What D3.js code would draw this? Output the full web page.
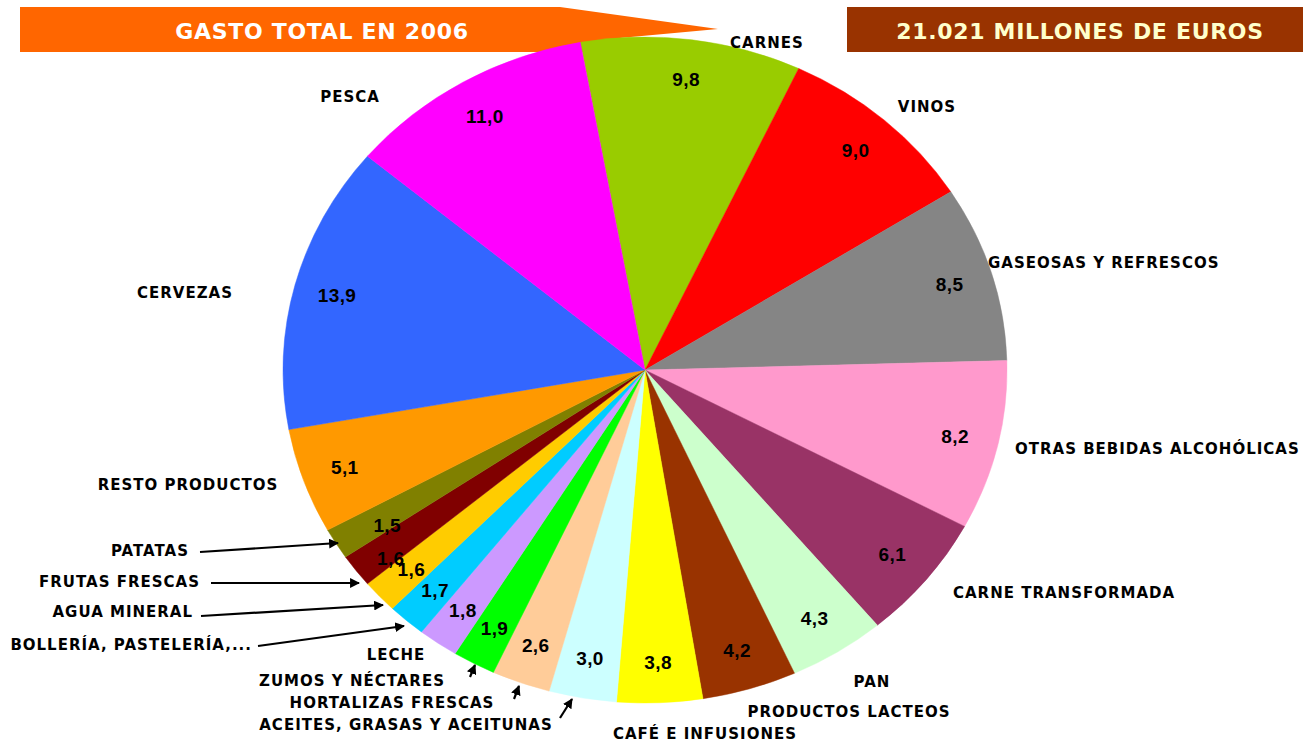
<!DOCTYPE html>
<html>
<head>
<meta charset="utf-8">
<script src="https://cdn.jsdelivr.net/npm/d3@7"></script>
<style>
  html, body { margin: 0; padding: 0; background: #ffffff; }
  svg { display: block; }
</style>
</head>
<body>
<svg id="chart" width="1307" height="743"></svg>
<script>
// Share of household food spending, 2006 (% of total)
const categories = [
  "CARNES", "VINOS", "GASEOSAS Y REFRESCOS", "OTRAS BEBIDAS ALCOHÓLICAS",
  "CARNE TRANSFORMADA", "PAN", "PRODUCTOS LACTEOS", "CAFÉ E INFUSIONES",
  "ACEITES, GRASAS Y ACEITUNAS", "HORTALIZAS FRESCAS", "ZUMOS Y NÉCTARES",
  "LECHE", "BOLLERÍA, PASTELERÍA,...", "AGUA MINERAL", "FRUTAS FRESCAS",
  "PATATAS", "RESTO PRODUCTOS", "CERVEZAS", "PESCA"
];
const values = [9.8, 9.0, 8.5, 8.2, 6.1, 4.3, 4.2, 3.8, 3.0, 2.6, 1.9, 1.8, 1.7, 1.6, 1.6, 1.5, 5.1, 13.9, 11.0];
const valueLabels = ["9,8", "9,0", "8,5", "8,2", "6,1", "4,3", "4,2", "3,8", "3,0", "2,6", "1,9", "1,8", "1,7", "1,6", "1,6", "1,5", "5,1", "13,9", "11,0"];

const titleLeft = "GASTO TOTAL EN 2006";
const titleRight = "21.021 MILLONES DE EUROS";

// Slice fills
const sliceColors = [
  "#99CC00", "#FF0000", "#858585", "#FF99CC", "#993366", "#CCFFCC", "#993300", "#FFFF00",
  "#CCFFFF", "#FFCC99", "#00FF00", "#CC99FF", "#00CCFF", "#FFCC00", "#800000",
  "#808000", "#FF9900", "#3366FF", "#FF00FF"
];

// Category label placement: [x, y, anchor, leader] ; leader = [x1, y1, x2, y2] or null
const labelLayout = [
  [767, 43, "middle", null],
  [927, 107, "middle", null],
  [988, 263, "start", null],
  [1015, 449, "start", null],
  [953, 593, "start", null],
  [872, 682, "middle", null],
  [849, 712, "middle", null],
  [705, 734, "middle", null],
  [406, 725, "middle", [560, 718, 572, 699]],
  [392, 703, "middle", [514, 699, 519, 686]],
  [352, 681, "middle", [470, 677, 475, 665]],
  [396, 655, "middle", null],
  [252, 645, "end", [258, 646, 404, 626]],
  [193, 612, "end", [201, 616, 383, 605]],
  [200, 582, "end", [211, 583, 359, 583]],
  [189, 551, "end", [200, 552, 338, 543]],
  [188, 485, "middle", null],
  [185, 293, "middle", null],
  [350, 97, "middle", null]
];

// Small offsets for value labels that crowd each other in the thin slices
const valueNudge = { 14: [0, 12], 15: [14, 3] };

const svg = d3.select("#chart");
const cx = 645, cy = 370, rx = 362, ry = 333;
const sy = ry / rx;

// Header banners
svg.append("path")
  .attr("d", "M20,7 L560,7 L718,29 L620,38 L620,52 L20,52 Z")
  .attr("fill", "#FF6600");
svg.append("text")
  .attr("x", 322).attr("y", 31)
  .attr("text-anchor", "middle").attr("dominant-baseline", "central")
  .attr("font-family", "'DejaVu Sans', Verdana, sans-serif")
  .attr("font-weight", "bold").attr("font-size", 22)
  .attr("letter-spacing", 0.7)
  .attr("fill", "#FFFFFF")
  .text(titleLeft);

svg.append("rect")
  .attr("x", 847).attr("y", 7).attr("width", 456).attr("height", 45)
  .attr("fill", "#993300");
svg.append("text")
  .attr("x", 1080).attr("y", 31)
  .attr("text-anchor", "middle").attr("dominant-baseline", "central")
  .attr("font-family", "'DejaVu Sans', Verdana, sans-serif")
  .attr("font-weight", "bold").attr("font-size", 22)
  .attr("letter-spacing", 0.7)
  .attr("fill", "#FFFFCC")
  .text(titleRight);

// Pie
const startDeg = -10.3;
const pie = d3.pie()
  .value(d => d)
  .sort(null)
  .startAngle(startDeg * Math.PI / 180)
  .endAngle((startDeg + 360) * Math.PI / 180);
const arcs = pie(values);
const arc = d3.arc().innerRadius(0).outerRadius(rx);

const g = svg.append("g")
  .attr("transform", `translate(${cx},${cy}) scale(1,${sy})`);
g.selectAll("path.slice")
  .data(arcs)
  .enter().append("path")
  .attr("class", "slice")
  .attr("d", arc)
  .attr("fill", (d, i) => sliceColors[i])
  .attr("stroke", (d, i) => sliceColors[i])
  .attr("stroke-width", 0.5);

// Value labels inside the slices
const labelR = 0.88 * rx;
const nudge = i => valueNudge[i] || [0, 0];
svg.selectAll("text.val")
  .data(arcs)
  .enter().append("text")
  .attr("class", "val")
  .attr("x", (d, i) => cx + labelR * Math.sin((d.startAngle + d.endAngle) / 2) + nudge(i)[0])
  .attr("y", (d, i) => cy - labelR * Math.cos((d.startAngle + d.endAngle) / 2) * sy + nudge(i)[1])
  .attr("text-anchor", "middle").attr("dominant-baseline", "central")
  .attr("font-family", "'Liberation Sans', Arial, sans-serif")
  .attr("font-weight", "bold").attr("font-size", 19)
  .attr("letter-spacing", 0.4)
  .attr("fill", "#000000")
  .text((d, i) => valueLabels[i]);

// Arrowhead for leader lines
svg.append("defs").append("marker")
  .attr("id", "arrow")
  .attr("viewBox", "0 0 10 10")
  .attr("refX", 9).attr("refY", 5)
  .attr("markerWidth", 4.5).attr("markerHeight", 4.5)
  .attr("orient", "auto")
  .append("path").attr("d", "M0,0 L10,5 L0,10 Z").attr("fill", "#000");

svg.selectAll("line.leader")
  .data(labelLayout.filter(l => l[3]))
  .enter().append("line")
  .attr("class", "leader")
  .attr("x1", l => l[3][0]).attr("y1", l => l[3][1])
  .attr("x2", l => l[3][2]).attr("y2", l => l[3][3])
  .attr("stroke", "#000").attr("stroke-width", 2.2)
  .attr("marker-end", "url(#arrow)");

// Category labels
svg.selectAll("text.cat")
  .data(categories)
  .enter().append("text")
  .attr("class", "cat")
  .attr("x", (d, i) => labelLayout[i][0])
  .attr("y", (d, i) => labelLayout[i][1])
  .attr("text-anchor", (d, i) => labelLayout[i][2])
  .attr("dominant-baseline", "central")
  .attr("font-family", "'DejaVu Sans', Verdana, sans-serif")
  .attr("font-weight", "bold").attr("font-size", 15)
  .attr("letter-spacing", 1)
  .attr("fill", "#000000")
  .text(d => d);
</script>
</body>
</html>
